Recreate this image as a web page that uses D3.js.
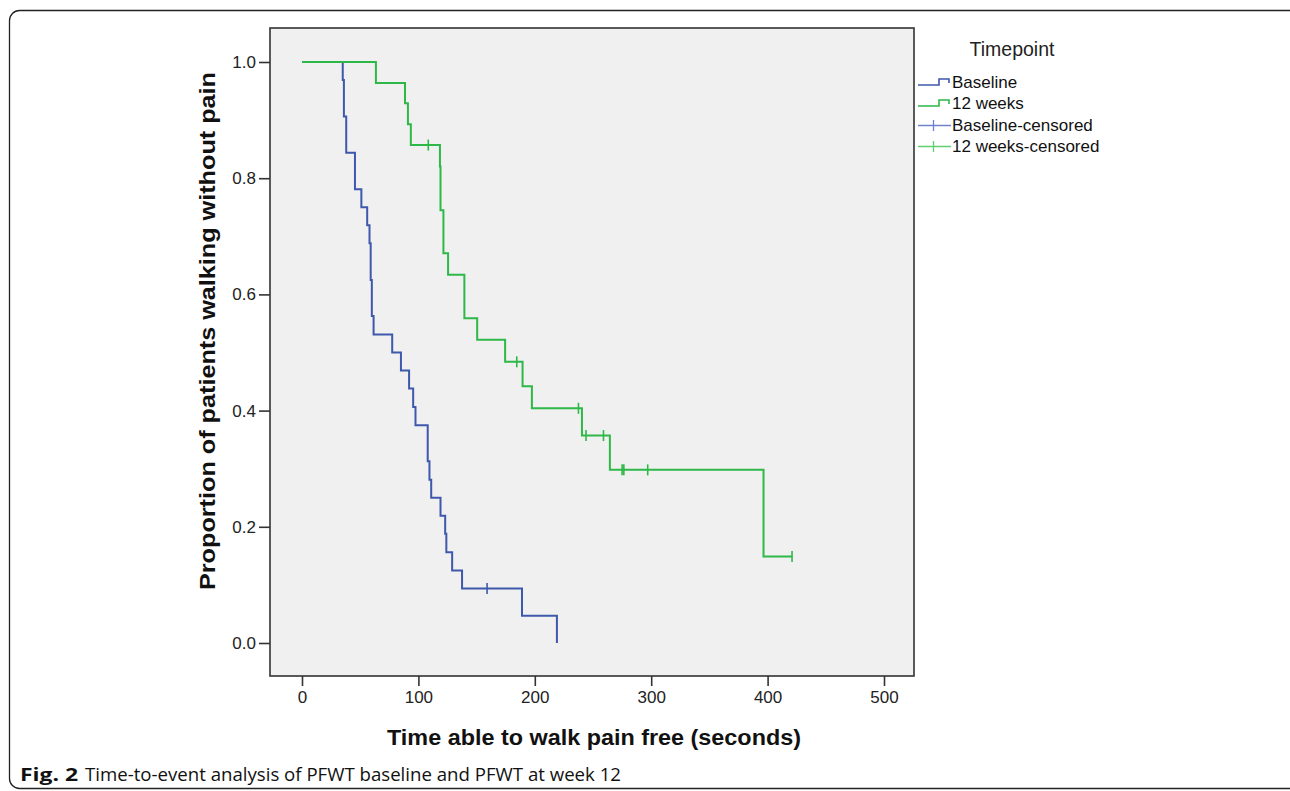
<!DOCTYPE html>
<html>
<head>
<meta charset="utf-8">
<script src="https://cdn.jsdelivr.net/npm/d3@7"></script>
<style>
  html, body { margin: 0; padding: 0; background: #fff; }
  svg { display: block; }
</style>
</head>
<body>
<script>

// Baseline: step times (s) and survival after each step
var baselineTimes = [ 35, 36, 38, 45.5, 51, 56, 58, 59, 60, 61.5, 77.5, 85, 92, 95.5, 97.5,
                      108, 109.5, 111, 119, 123, 124, 129, 137.5, 189, 219 ];
var baselineSurv  = [ 0.969, 0.906, 0.844, 0.781, 0.750, 0.719, 0.688, 0.625, 0.563, 0.531,
                      0.500, 0.469, 0.438, 0.406, 0.375, 0.313, 0.281, 0.250, 0.219, 0.188,
                      0.156, 0.125, 0.094, 0.047, 0.000 ];
var baselineCensTimes = [ 159 ];
var baselineCensSurv  = [ 0.094 ];

// 12 weeks
var weeksTimes = [ 63.5, 88.5, 91, 93.5, 118.5, 119, 121.5, 125.5, 139.5, 150.5, 174.5,
                   189.5, 197.5, 240.5, 264.5, 396.5 ];
var weeksSurv  = [ 0.964, 0.929, 0.893, 0.857, 0.820, 0.745, 0.671, 0.634, 0.559, 0.522,
                   0.484, 0.442, 0.404, 0.357, 0.298, 0.149 ];
var weeksCensTimes = [ 108.5, 184.5, 237.5, 244, 259, 275, 276.5, 297, 421 ];
var weeksCensSurv  = [ 0.857, 0.484, 0.404, 0.357, 0.357, 0.298, 0.298, 0.298, 0.149 ];

var xTicks = [ 0, 100, 200, 300, 400, 500 ];
var yTicks = [ 0, 0.2, 0.4, 0.6, 0.8, 1.0 ];

var legendTitle = "Timepoint";
var legendLabels = [ "Baseline", "12 weeks", "Baseline-censored", "12 weeks-censored" ];

var blue = "#3e58ac",
    green = "#2eb848";

var width = 1290, height = 791;

var svg = d3.select( "body" ).append( "svg" )
  .attr( "width", width )
  .attr( "height", height );

// outer frame
svg.append( "rect" )
  .attr( "x", 9.5 ).attr( "y", 10.5 )
  .attr( "width", 1290 ).attr( "height", 778 )
  .attr( "rx", 10 )
  .attr( "fill", "none" )
  .attr( "stroke", "#222" )
  .attr( "stroke-width", 1.3 );

var x = d3.scaleLinear().domain( [ 0, 500 ] ).range( [ 302, 884 ] );
var y = d3.scaleLinear().domain( [ 0, 1 ] ).range( [ 643, 62 ] );

var box = { left: 270, right: 914, top: 28, bottom: 676 };

svg.append( "rect" )
  .attr( "x", box.left ).attr( "y", box.top )
  .attr( "width", box.right - box.left )
  .attr( "height", box.bottom - box.top )
  .attr( "fill", "#f0f0f0" )
  .attr( "stroke", "#333" )
  .attr( "stroke-width", 1.6 );

// axes
var yAxis = svg.append( "g" )
  .attr( "transform", "translate(" + box.left + ",0)" )
  .call( d3.axisLeft( y ).tickValues( yTicks ).tickFormat( d3.format( ".1f" ) )
    .tickSize( 11 ).tickPadding( 3 ) );

var xAxis = svg.append( "g" )
  .attr( "transform", "translate(0," + box.bottom + ")" )
  .call( d3.axisBottom( x ).tickValues( xTicks ).tickSize( 10 ).tickPadding( 5 ) );

[ yAxis, xAxis ].forEach( function( g ) {
  g.select( ".domain" ).remove();
  g.selectAll( "line" ).attr( "stroke", "#333" ).attr( "stroke-width", 1.6 );
  g.selectAll( "text" )
    .attr( "fill", "#222" )
    .style( "font-family", "Liberation Sans, Arial, sans-serif" )
    .style( "font-size", "17px" );
} );

// axis titles
svg.append( "text" )
  .attr( "x", 594 ).attr( "y", 745 )
  .attr( "text-anchor", "middle" )
  .attr( "textLength", 414 )
  .attr( "lengthAdjust", "spacingAndGlyphs" )
  .style( "font-family", "Liberation Sans, Arial, sans-serif" )
  .style( "font-weight", "bold" )
  .style( "font-size", "22px" )
  .attr( "fill", "#111" )
  .text( "Time able to walk pain free (seconds)" );

svg.append( "text" )
  .attr( "transform", "translate(215,331) rotate(-90)" )
  .attr( "text-anchor", "middle" )
  .attr( "textLength", 518 )
  .attr( "lengthAdjust", "spacingAndGlyphs" )
  .style( "font-family", "Liberation Sans, Arial, sans-serif" )
  .style( "font-weight", "bold" )
  .style( "font-size", "22px" )
  .attr( "fill", "#111" )
  .text( "Proportion of patients walking without pain" );

// survival curves
var stepLine = d3.line()
  .x( d => x( d[ 0 ] ) )
  .y( d => y( d[ 1 ] ) )
  .curve( d3.curveStepAfter );

function curvePoints( times, surv, endTime ) {
  var pts = [ [ 0, 1 ] ];
  times.forEach( ( t, i ) => pts.push( [ t, surv[ i ] ] ) );
  if( endTime != null ) pts.push( [ endTime, surv[ surv.length - 1 ] ] );
  return pts;
}

var curves = [
  { pts: curvePoints( baselineTimes, baselineSurv, null ), color: blue,
    cens: baselineCensTimes.map( ( t, i ) => [ t, baselineCensSurv[ i ] ] ) },
  { pts: curvePoints( weeksTimes, weeksSurv, weeksCensTimes[ weeksCensTimes.length - 1 ] ), color: green,
    cens: weeksCensTimes.map( ( t, i ) => [ t, weeksCensSurv[ i ] ] ) }
];

curves.forEach( function( c ) {
  svg.append( "path" )
    .attr( "d", stepLine( c.pts ) )
    .attr( "fill", "none" )
    .attr( "stroke", c.color )
    .attr( "stroke-width", 2 );

  svg.selectAll( null )
    .data( c.cens )
    .enter().append( "line" )
      .attr( "x1", d => x( d[ 0 ] ) )
      .attr( "x2", d => x( d[ 0 ] ) )
      .attr( "y1", d => y( d[ 1 ] ) - 5.5 )
      .attr( "y2", d => y( d[ 1 ] ) + 5.5 )
      .attr( "stroke", c.color )
      .attr( "stroke-width", 1.6 );
} );

// legend
svg.append( "text" )
  .attr( "x", 1012 ).attr( "y", 56 )
  .attr( "text-anchor", "middle" )
  .style( "font-family", "Liberation Sans, Arial, sans-serif" )
  .style( "font-size", "19.5px" )
  .attr( "fill", "#222" )
  .text( legendTitle );

var legendColors = [ blue, green, "#6f82cc", "#5fcf6f" ];
var legendBase = [ 88, 109, 131, 152 ];

var legend = svg.selectAll( "g.legendItem" )
  .data( legendLabels )
  .enter().append( "g" )
    .attr( "class", "legendItem" )
    .attr( "transform", ( d, i ) => "translate(0," + legendBase[ i ] + ")" );

legend.append( "text" )
  .attr( "x", 952 )
  .style( "font-family", "Liberation Sans, Arial, sans-serif" )
  .style( "font-size", "17px" )
  .attr( "fill", "#111" )
  .text( d => d );

legend.filter( ( d, i ) => i < 2 ).append( "path" )
  .attr( "d", "M918,-3H939V-9H949V-5" )
  .attr( "fill", "none" )
  .attr( "stroke", d => legendColors[ legendLabels.indexOf( d ) ] )
  .attr( "stroke-width", 1.6 );

legend.filter( ( d, i ) => i >= 2 ).append( "path" )
  .attr( "d", "M918,-5.5H951M933.5,-11V0" )
  .attr( "fill", "none" )
  .attr( "stroke", d => legendColors[ legendLabels.indexOf( d ) ] )
  .attr( "stroke-width", 1.3 );

// caption
svg.append( "text" )
  .attr( "x", 20 ).attr( "y", 781 )
  .attr( "textLength", 58 )
  .attr( "lengthAdjust", "spacingAndGlyphs" )
  .style( "font-family", "Open Sans, sans-serif" )
  .style( "font-weight", "bold" )
  .style( "font-size", "18px" )
  .attr( "fill", "#111" )
  .text( "Fig. 2" );

svg.append( "text" )
  .attr( "x", 85 ).attr( "y", 781 )
  .attr( "textLength", 536 )
  .attr( "lengthAdjust", "spacingAndGlyphs" )
  .style( "font-family", "Open Sans, sans-serif" )
  .style( "font-size", "18px" )
  .attr( "fill", "#111" )
  .text( "Time-to-event analysis of PFWT baseline and PFWT at week 12" );

</script>
</body>
</html>
